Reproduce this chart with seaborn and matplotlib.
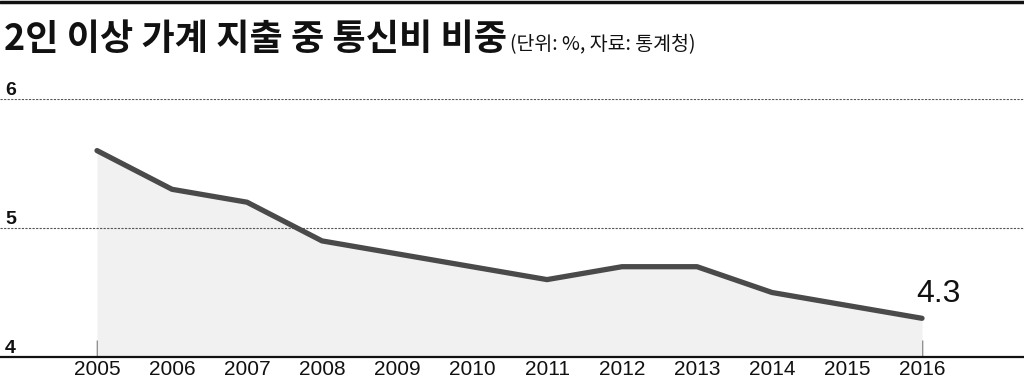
import matplotlib
matplotlib.use("Agg")
import matplotlib.pyplot as plt
from matplotlib import font_manager
from matplotlib.lines import Line2D
import seaborn as sns
import pandas as pd

years = [2005, 2006, 2007, 2008, 2009, 2010, 2011, 2012, 2013, 2014, 2015, 2016]
share = [5.6, 5.3, 5.2, 4.9, 4.8, 4.7, 4.6, 4.7, 4.7, 4.5, 4.4, 4.3]
y_ticks = [4, 5, 6]
title_main = "2인 이상 가계 지출 중 통신비 비중"
title_sub = "(단위: %, 자료: 통계청)"
last_label = "4.3"

sns.set_theme(style="white")
names = {f.name for f in font_manager.fontManager.ttflist}
narrow = "Liberation Sans Narrow" if "Liberation Sans Narrow" in names else "Liberation Sans"
plt.rcParams["font.family"] = [narrow, "DejaVu Sans"]
cjk = ["Noto Sans CJK KR", "DejaVu Sans"]

df = pd.DataFrame({"year": years, "share": share})

fig = plt.figure(figsize=(10.24, 3.84), dpi=100)
ax = fig.add_axes([0, 27 / 384, 1, 258 / 384])
ax.set_facecolor("none")

x0 = years[0] - 97 / 75
x1 = years[-1] + (1024 - 922) / 75
ax.set_xlim(x0, x1)
ax.set_ylim(4, 6)

ax.fill_between(df["year"], df["share"], 4, color="#f1f1f1", zorder=1, linewidth=0)
sns.lineplot(data=df, x="year", y="share", ax=ax, color="#4a4a4a", linewidth=3.8,
             zorder=3, solid_capstyle="round", solid_joinstyle="round")

for v in y_ticks[1:]:
    ax.axhline(v, color="#555555", linestyle=(0, (2, 1.2)), linewidth=0.8, zorder=2)
ax.axhline(4, color="#111111", linewidth=1.6, zorder=4, clip_on=False)

for s in ax.spines.values():
    s.set_visible(False)

ax.set_xticks(years)
ax.set_xticklabels([str(y) for y in years], fontsize=15, color="#111111")
ax.tick_params(axis="x", direction="in", length=12, width=1, color="#333333", pad=2, bottom=True)
ax.set_yticks([])
ax.set_xlabel("")
ax.set_ylabel("")

for v in y_ticks:
    ax.text(5 / 1024, v, str(v), transform=ax.get_yaxis_transform(), fontsize=14,
            fontweight="bold", ha="left", va="bottom", color="#111111",
            family=["Liberation Sans", "DejaVu Sans"])

ax.annotate(last_label, (years[-1], share[-1]), xytext=(12, 7), textcoords="offset points",
            fontsize=23, ha="center", va="bottom", color="#111111")

fig.text(4 / 1024, 1 - 50 / 384, title_main, family=cjk, fontsize=26, fontweight="black",
         va="baseline", ha="left", color="#111111")
fig.canvas.draw()
r = fig.texts[0].get_window_extent()
fig.text(r.x1 / 1024 + 0.003, 1 - 50 / 384, title_sub, family=cjk, fontsize=14,
         va="baseline", ha="left", color="#111111")

fig.add_artist(Line2D([0, 1], [1 - 1.5 / 384, 1 - 1.5 / 384], color="#111111", linewidth=2.5,
                      transform=fig.transFigure))

fig.savefig("out.png", dpi=100)
